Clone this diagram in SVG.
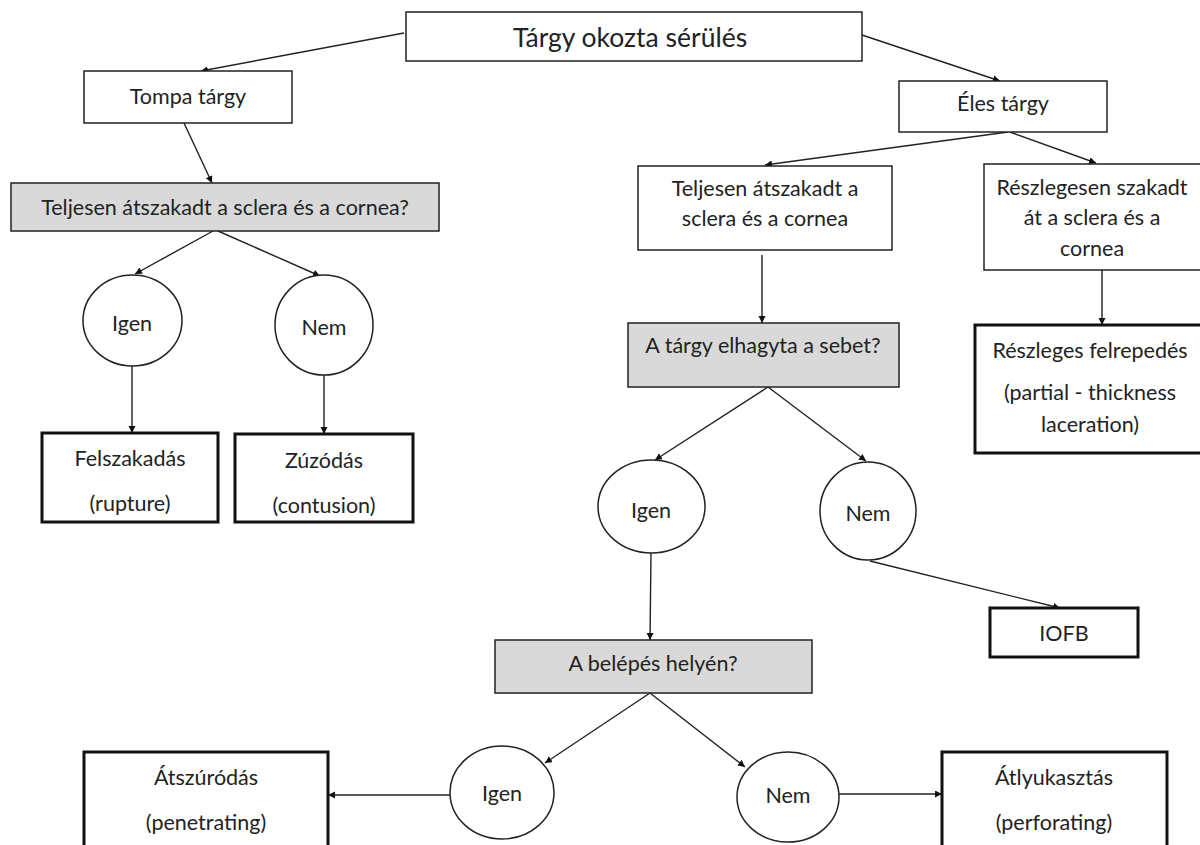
<svg xmlns="http://www.w3.org/2000/svg" width="1200" height="845" viewBox="0 0 1200 845">
<style>
  text { font-family: Lato, "Liberation Sans", sans-serif; font-size: 21.5px; fill: #222; text-anchor: middle; dominant-baseline: central; }
  .box { fill: #fff; stroke: #222; stroke-width: 1.5; }
  .q { fill: #d9d9d9; stroke: #222; stroke-width: 1.5; }
  .res { fill: #fff; stroke: #111; stroke-width: 3; }
  .circ { fill: #fff; stroke: #222; stroke-width: 1.5; }
  .conn line { stroke: #222; stroke-width: 1.4; marker-end: url(#arr); }
</style>
<defs>
  <marker id="arr" markerUnits="userSpaceOnUse" markerWidth="10" markerHeight="10" refX="7" refY="3.5" orient="auto">
    <path d="M0,0 L7,3.5 L0,7 z" fill="#111"/>
  </marker>
</defs>
<rect width="1200" height="845" fill="#fff"/>

<g class="conn" id="connectors">
  <line x1="404" y1="33" x2="201" y2="71"/>
  <line x1="862" y1="35" x2="1000" y2="81"/>
  <line x1="184" y1="123" x2="212" y2="183"/>
  <line x1="213" y1="231" x2="135" y2="274"/>
  <line x1="218" y1="231" x2="320" y2="276"/>
  <line x1="132" y1="366" x2="132" y2="433"/>
  <line x1="324" y1="375" x2="324" y2="434"/>
  <line x1="1008" y1="132" x2="765" y2="165"/>
  <line x1="1010" y1="132" x2="1096" y2="163"/>
  <line x1="762" y1="255" x2="762" y2="323"/>
  <line x1="1102" y1="258" x2="1102" y2="325"/>
  <line x1="768" y1="387" x2="655" y2="460"/>
  <line x1="768" y1="387" x2="866" y2="461"/>
  <line x1="651" y1="553" x2="650" y2="640"/>
  <line x1="870" y1="561" x2="1060" y2="608"/>
  <line x1="650" y1="693" x2="545" y2="763"/>
  <line x1="650" y1="693" x2="745" y2="767"/>
  <line x1="450" y1="795" x2="328" y2="795"/>
  <line x1="839" y1="794" x2="942" y2="794"/>
</g>

<g id="root">
  <rect class="box" x="406" y="12" width="456" height="49"/>
  <text x="630" y="37" style="font-size:26.5px">Tárgy okozta sérülés</text>
</g>
<g id="tompa">
  <rect class="box" x="84" y="71" width="208" height="52"/>
  <text x="188" y="96">Tompa tárgy</text>
</g>
<g id="eles">
  <rect class="box" x="899" y="81" width="208" height="51"/>
  <text x="1003" y="103">Éles tárgy</text>
</g>
<g id="q1">
  <rect class="q" x="11" y="183" width="428" height="48"/>
  <text x="225" y="207">Teljesen átszakadt a sclera és a cornea?</text>
</g>
<g id="igen1">
  <ellipse class="circ" cx="132.5" cy="320.5" rx="49.5" ry="45.5"/>
  <text x="132" y="323">Igen</text>
</g>
<g id="nem1">
  <ellipse class="circ" cx="324" cy="325" rx="49" ry="50"/>
  <text x="324" y="327">Nem</text>
</g>
<g id="felszakadas">
  <rect class="res" x="42" y="433" width="176" height="89"/>
  <text x="130" y="458">Felszakadás</text>
  <text x="130" y="503">(rupture)</text>
</g>
<g id="zuzodas">
  <rect class="res" x="235" y="434" width="178" height="88"/>
  <text x="324" y="460">Zúzódás</text>
  <text x="324" y="505">(contusion)</text>
</g>
<g id="teljesen2">
  <rect class="box" x="638" y="166" width="254" height="84"/>
  <text x="765" y="188">Teljesen átszakadt a</text>
  <text x="765" y="218">sclera és a cornea</text>
</g>
<g id="reszlegesen">
  <rect class="box" x="984" y="164" width="230" height="106"/>
  <text x="1092" y="187">Részlegesen szakadt</text>
  <text x="1092" y="217">át a sclera és a</text>
  <text x="1092" y="248">cornea</text>
</g>
<g id="q2">
  <rect class="q" x="628" y="323" width="271" height="64"/>
  <text x="763" y="345">A tárgy elhagyta a sebet?</text>
</g>
<g id="reszleges-felrepedes">
  <rect class="res" x="975" y="325" width="240" height="128"/>
  <text x="1090" y="350">Részleges felrepedés</text>
  <text x="1090" y="392">(partial - thickness</text>
  <text x="1090" y="424">laceration)</text>
</g>
<g id="igen2">
  <ellipse class="circ" cx="651.5" cy="506.5" rx="53.5" ry="46.5"/>
  <text x="651" y="510">Igen</text>
</g>
<g id="nem2">
  <ellipse class="circ" cx="868" cy="511" rx="48" ry="49"/>
  <text x="868" y="513">Nem</text>
</g>
<g id="iofb">
  <rect class="res" x="990" y="608" width="148" height="49"/>
  <text x="1064" y="633">IOFB</text>
</g>
<g id="q3">
  <rect class="q" x="495" y="640" width="317" height="53"/>
  <text x="653" y="663">A belépés helyén?</text>
</g>
<g id="igen3">
  <ellipse class="circ" cx="502" cy="792.5" rx="52" ry="46.5"/>
  <text x="502" y="793">Igen</text>
</g>
<g id="nem3">
  <ellipse class="circ" cx="788" cy="797" rx="51" ry="45"/>
  <text x="788" y="795">Nem</text>
</g>
<g id="atszurodas">
  <rect class="res" x="84" y="752" width="244" height="110"/>
  <text x="206" y="777">Átszúródás</text>
  <text x="206" y="822">(penetrating)</text>
</g>
<g id="atlyukasztas">
  <rect class="res" x="942" y="752" width="225" height="110"/>
  <text x="1054" y="777">Átlyukasztás</text>
  <text x="1054" y="822">(perforating)</text>
</g>
</svg>
